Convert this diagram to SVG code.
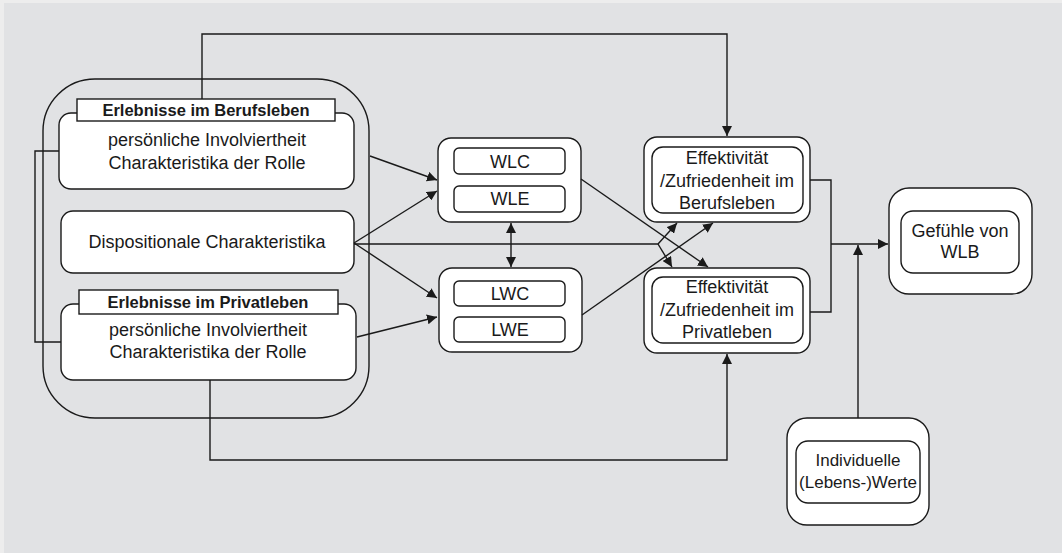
<svg xmlns="http://www.w3.org/2000/svg" width="1062" height="553" viewBox="0 0 1062 553">
<defs>
<style>
.bx{fill:#fff;stroke:#1a1a1a;stroke-width:1.4}
.ln{fill:none;stroke:#1a1a1a;stroke-width:1.4}
.t{font-family:"Liberation Sans",Arial,sans-serif;font-size:18px;fill:#1a1a1a;text-anchor:middle}
.b{font-weight:bold;font-size:16.5px}
.s{font-size:17px}
</style>
<marker id="ah" viewBox="0 0 10 10" refX="10" refY="5" markerWidth="10" markerHeight="10" markerUnits="userSpaceOnUse" orient="auto-start-reverse">
<path d="M0,0 L10,5 L0,10 z" fill="#1a1a1a"/>
</marker>
</defs>
<rect x="0" y="0" width="1062" height="553" fill="#ededed"/>
<rect x="4" y="3" width="1058" height="550" fill="#e1e2e4"/>

<g id="left-group">
<rect class="ln" x="43" y="79" width="326" height="339" rx="52"/>
</g>
<g id="berufsleben">
<rect class="bx" x="59" y="113" width="295" height="76" rx="12"/>
<rect class="bx" x="77" y="99" width="258" height="22" rx="0"/>
<text class="t b" x="206" y="116">Erlebnisse im Berufsleben</text>
<text class="t" x="207" y="146">persönliche Involviertheit</text>
<text class="t" x="207" y="169">Charakteristika der Rolle</text>
</g>
<g id="dispositional">
<rect class="bx" x="61" y="211" width="293" height="62" rx="12"/>
<text class="t" x="207" y="248">Dispositionale Charakteristika</text>
</g>
<g id="privatleben">
<rect class="bx" x="61" y="304" width="295" height="76" rx="12"/>
<rect class="bx" x="79" y="290" width="259" height="24" rx="0"/>
<text class="t b" x="208" y="308">Erlebnisse im Privatleben</text>
<text class="t" x="208" y="336">persönliche Involviertheit</text>
<text class="t" x="208" y="358">Charakteristika der Rolle</text>
</g>
<g id="wl">
<rect class="bx" x="438" y="138" width="143" height="84" rx="13"/>
<rect class="bx" x="454" y="148" width="111" height="26" rx="5"/>
<text class="t" x="510" y="168">WLC</text>
<rect class="bx" x="454" y="186" width="111" height="26" rx="5"/>
<text class="t" x="510" y="205">WLE</text>
</g>
<g id="lw">
<rect class="bx" x="439" y="268" width="143" height="84" rx="13"/>
<rect class="bx" x="454" y="281" width="111" height="25" rx="5"/>
<text class="t" x="510" y="300">LWC</text>
<rect class="bx" x="454" y="317" width="111" height="25" rx="5"/>
<text class="t" x="510" y="336">LWE</text>
</g>
<g id="eff-beruf">
<rect class="bx" x="644" y="137" width="166" height="85" rx="13"/>
<rect class="bx" x="652" y="147" width="151" height="66" rx="11"/>
<text class="t" x="727" y="164">Effektivität</text>
<text class="t" x="727" y="187">/Zufriedenheit im</text>
<text class="t" x="727" y="209">Berufsleben</text>
</g>
<g id="eff-privat">
<rect class="bx" x="644" y="268" width="166" height="85" rx="13"/>
<rect class="bx" x="652" y="277" width="151" height="66" rx="11"/>
<text class="t" x="727" y="293">Effektivität</text>
<text class="t" x="727" y="316">/Zufriedenheit im</text>
<text class="t" x="727" y="338">Privatleben</text>
</g>
<g id="wlb">
<rect class="bx" x="889" y="188" width="143" height="106" rx="20"/>
<rect class="bx" x="901" y="211" width="118" height="62" rx="12"/>
<text class="t" x="960" y="237">Gefühle von</text>
<text class="t" x="960" y="258">WLB</text>
</g>
<g id="werte">
<rect class="bx" x="787" y="418" width="142" height="107" rx="20"/>
<rect class="bx" x="796" y="441" width="124" height="62" rx="12"/>
<text class="t s" x="858" y="466">Individuelle</text>
<text class="t s" x="858" y="488">(Lebens-)Werte</text>
</g>

<g id="connectors">
<polyline class="ln" points="59,151 35,151 35,342 61,342"/>
<polyline class="ln" points="202,99 202,34 727,34 727,136" marker-end="url(#ah)"/>
<polyline class="ln" points="210,380 210,460 727,460 727,354" marker-end="url(#ah)"/>
<line class="ln" x1="370" y1="156" x2="437" y2="180" marker-end="url(#ah)"/>
<line class="ln" x1="354" y1="243" x2="437" y2="191" marker-end="url(#ah)"/>
<line class="ln" x1="354" y1="243" x2="437" y2="298" marker-end="url(#ah)"/>
<line class="ln" x1="357" y1="337" x2="437" y2="317" marker-end="url(#ah)"/>
<line class="ln" x1="511" y1="223" x2="511" y2="267" marker-start="url(#ah)" marker-end="url(#ah)"/>
<line class="ln" x1="581" y1="179" x2="708" y2="267" marker-end="url(#ah)"/>
<line class="ln" x1="582" y1="315" x2="713" y2="223" marker-end="url(#ah)"/>
<polyline class="ln" points="354,244 658,244 677,223" marker-end="url(#ah)"/>
<polyline class="ln" points="658,244 672,267" marker-end="url(#ah)"/>
<polyline class="ln" points="810,180 831,180 831,312 810,312"/>
<line class="ln" x1="831" y1="244" x2="888" y2="244" marker-end="url(#ah)"/>
<line class="ln" x1="858" y1="418" x2="858" y2="245" marker-end="url(#ah)"/>
</g>
</svg>
